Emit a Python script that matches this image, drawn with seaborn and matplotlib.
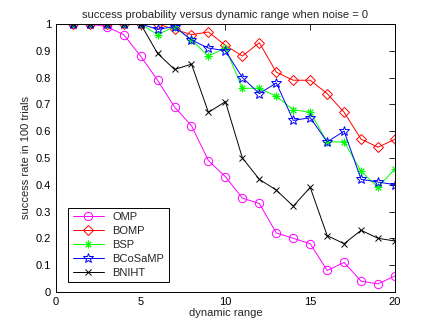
import numpy as np
import pandas as pd
import matplotlib
matplotlib.use("Agg")
import matplotlib.pyplot as plt
import seaborn as sns
from matplotlib.ticker import FuncFormatter

# data
dyn_range = list(range(1, 21))
omp     = [1, 1, 0.99, 0.96, 0.88, 0.79, 0.69, 0.62, 0.49, 0.43,
           0.35, 0.33, 0.22, 0.20, 0.18, 0.08, 0.11, 0.04, 0.03, 0.06]
bomp    = [1, 1, 1, 1, 1, 1.0, 0.98, 0.96, 0.97, 0.92,
           0.88, 0.93, 0.82, 0.79, 0.79, 0.74, 0.67, 0.57, 0.54, 0.57]
bsp     = [1, 1, 1, 1, 1, 0.96, 0.99, 0.94, 0.88, 0.91,
           0.76, 0.76, 0.73, 0.68, 0.67, 0.56, 0.56, 0.45, 0.39, 0.46]
bcosamp = [1, 1, 1, 1, 1, 0.98, 0.99, 0.94, 0.91, 0.90,
           0.80, 0.74, 0.78, 0.64, 0.65, 0.56, 0.60, 0.42, 0.41, 0.40]
bniht   = [1, 1, 1, 1, 1, 0.89, 0.83, 0.85, 0.67, 0.71,
           0.50, 0.42, 0.38, 0.32, 0.39, 0.21, 0.18, 0.23, 0.20, 0.19]

names = ["OMP", "BOMP", "BSP", "BCoSaMP", "BNIHT"]
values = [omp, bomp, bsp, bcosamp, bniht]

df = pd.DataFrame({
    "dynamic range": dyn_range * len(names),
    "rate": sum(values, []),
    "method": np.repeat(names, len(dyn_range)),
})

sns.set_style("white")
plt.rcParams["font.family"] = ["Liberation Sans", "DejaVu Sans"]

# colour, marker, marker size (matlab-ish look)
styles = {
    "OMP":     ("#ff00ff", "o", 6),
    "BOMP":    ("#ff0000", "D", 5),
    "BSP":     ("#00ff00", (8, 2, 0), 5.5),
    "BCoSaMP": ("#0000ff", "*", 7),
    "BNIHT":   ("#000000", "x", 4.5),
}

fig = plt.figure(figsize=(4.36, 3.28), dpi=100)
ax = fig.add_axes([0.128, 0.11, 0.778, 0.817])

for name in names:
    col, mk, ms = styles[name]
    sns.lineplot(data=df[df["method"] == name], x="dynamic range", y="rate",
                 ax=ax, color=col, marker=mk, markersize=ms, linewidth=0.7,
                 mfc="none", mec=col, mew=0.7, label=name)

ax.set_xlim(0, 20)
ax.set_ylim(0, 1)
ax.set_xticks([0, 5, 10, 15, 20])
ax.set_yticks(np.arange(0, 1.01, 0.1))
ax.yaxis.set_major_formatter(FuncFormatter(lambda v, p: f"{v:g}"))
ax.tick_params(direction="in", top=True, right=True, length=4, width=0.6,
               labelsize=8, colors="black")
for s in ax.spines.values():
    s.set_color("black")
    s.set_linewidth(0.7)

ax.set_xlabel("dynamic range", fontsize=8, labelpad=1)
ax.set_ylabel("success rate in 100 trials", fontsize=8, labelpad=3)
ax.set_title("success probability versus dynamic range when noise = 0",
             fontsize=8, pad=4)

leg = ax.legend(loc="lower left", fontsize=8, fancybox=False, framealpha=1,
                edgecolor="black", labelspacing=0.35, borderpad=0.4,
                handlelength=2.8, bbox_to_anchor=(0.02, 0.015))
leg.get_frame().set_linewidth(0.7)

fig.savefig("out.png", dpi=100)
